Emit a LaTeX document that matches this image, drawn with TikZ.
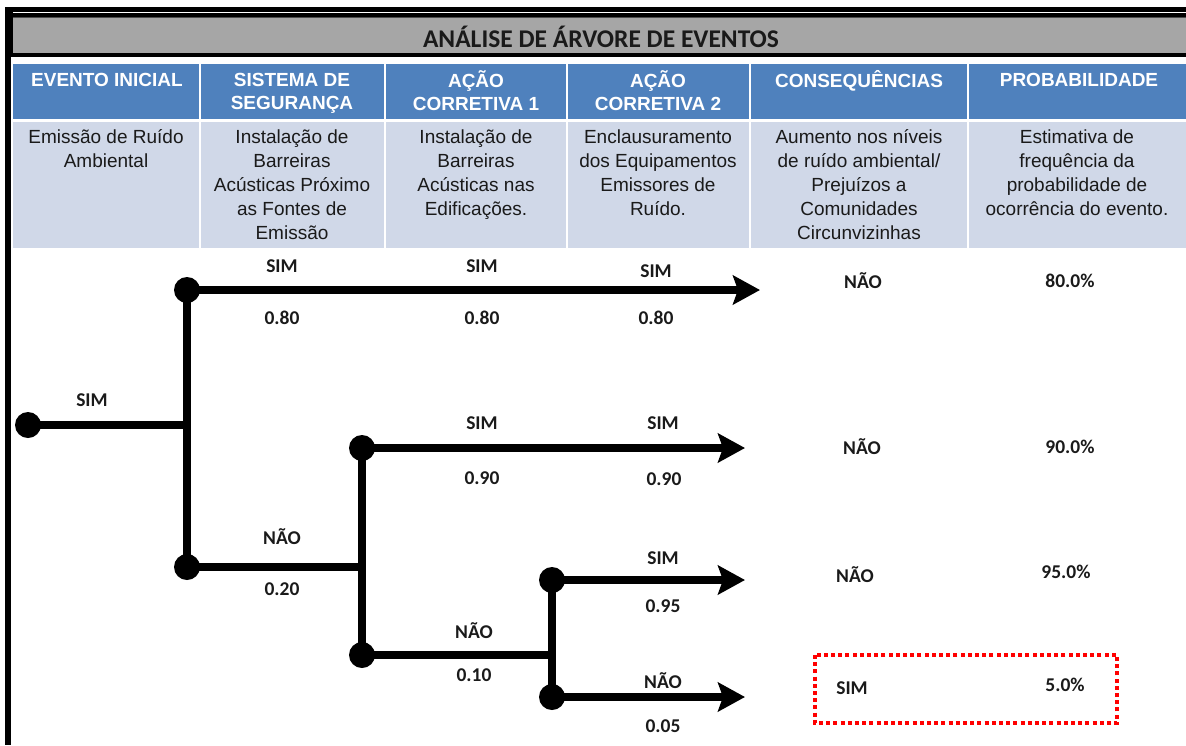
\documentclass[tikz,border=0pt]{standalone}
\usepackage{fontspec}
\setmainfont{Liberation Sans}
\newfontfamily\calfont{Carlito}
\usetikzlibrary{arrows.meta}
\definecolor{hdrblue}{HTML}{4F81BD}
\definecolor{rowblue}{HTML}{D0D8E8}
\definecolor{titlegray}{HTML}{A6A6A6}
\definecolor{ink}{HTML}{1A1A1A}
\tikzset{
  hdr/.style={anchor=north, align=center, text=white, font=\fontsize{19}{23}\selectfont\bfseries, inner sep=0pt},
  body/.style={anchor=north, align=center, text=ink, font=\fontsize{19}{24}\selectfont, inner sep=0pt},
  lbl/.style={font=\calfont\bfseries\fontsize{19.5}{22}\selectfont, inner sep=0pt, text=ink},
  dot/.style={circle, fill=black, minimum size=26pt, inner sep=0pt},
  branch/.style={line width=8pt},
  arrowbranch/.style={line width=8pt, -{Stealth[length=27pt,width=29pt,inset=5pt]}},
  redbox/.style={draw=red, line width=4pt, dash pattern=on 4pt off 3.2pt},
}
\begin{document}
\begin{tikzpicture}[x=1pt,y=-1pt]
\useasboundingbox (0,0) rectangle (1186,745);
% frame and title bar
\fill[black] (5,7) rectangle (1186,17);
\draw[white, line width=1pt] (12,12.5) -- (1186,12.5);
\fill[black] (5,7) rectangle (13,57);
\fill[black] (5,7) rectangle (11,745);
\fill[titlegray] (13,17) rectangle (1186,54);
\draw[black!70, line width=1.5pt] (13,17.5) -- (1186,17.5);
\fill[black] (13,53) rectangle (1186,57);
\node[font=\calfont\bfseries\fontsize{25.5}{28}\selectfont, text=ink, inner sep=0pt] (title) at (601,37) {ANÁLISE DE ÁRVORE DE EVENTOS};
% header row
\fill[hdrblue] (13,64) rectangle (1186,119);
\fill[rowblue] (13,122) rectangle (1186,248);
\foreach \xx in {200,385,567,750,968} {
  \draw[white, line width=2pt] (\xx,64) -- (\xx,248);
}
\node[hdr] (h1) at (107,70) {\strut EVENTO INICIAL};
\node[hdr] (h2) at (292,70) {\strut SISTEMA DE\\SEGURANÇA};
\node[hdr] (h3) at (476,70) {\strut AÇÃO\\CORRETIVA 1};
\node[hdr] (h4) at (658,70) {\strut AÇÃO\\CORRETIVA 2};
\node[hdr] (h5) at (859,70) {\strut CONSEQUÊNCIAS};
\node[hdr] (h6) at (1079,70) {\strut PROBABILIDADE};
\node[body] (b1) at (106,126) {\strut Emissão de Ruído\\Ambiental};
\node[body] (b2) at (292,126) {\strut Instalação de\\Barreiras\\Acústicas Próximo\\as Fontes de\\Emissão};
\node[body] (b3) at (476,126) {\strut Instalação de\\Barreiras\\Acústicas nas\\Edificações.};
\node[body] (b4) at (658,126) {\strut Enclausuramento\\dos Equipamentos\\Emissores de\\Ruído.};
\node[body] (b5) at (859,126) {\strut Aumento nos níveis\\de ruído ambiental/\\Prejuízos a\\Comunidades\\Circunvizinhas};
\node[body] (b6) at (1077,126) {\strut Estimativa de\\frequência da\\probabilidade de\\ocorrência do evento.};
% tree points
\node[dot] (s0) at (28,425) {};
\coordinate (j1) at (187,425);
\node[dot] (d1) at (187,290) {};
\node[dot] (d2) at (187,567) {};
\coordinate (e1) at (760,290);
\coordinate (j2) at (362,567);
\node[dot] (d3) at (362,448) {};
\node[dot] (d4) at (362,655) {};
\coordinate (e2) at (745,448);
\coordinate (j3) at (552,655);
\node[dot] (d5) at (552,580) {};
\node[dot] (d6) at (552,697) {};
\coordinate (e3) at (745,580);
\coordinate (e4) at (745,697);
% connectors
\draw[branch] (s0.center) -- (j1);
\draw[branch] (d1.center) -- (d2.center);
\draw[arrowbranch] (d1.center) -- (e1);
\draw[branch] (d2.center) -- (j2);
\draw[branch] (d3.center) -- (d4.center);
\draw[arrowbranch] (d3.center) -- (e2);
\draw[branch] (d4.center) -- (j3);
\draw[branch] (d5.center) -- (d6.center);
\draw[arrowbranch] (d5.center) -- (e3);
\draw[arrowbranch] (d6.center) -- (e4);
% labels
\node[lbl] (l0) at (92,400) {SIM};
\node[lbl] (l1a) at (282,266) {SIM};
\node[lbl] (l1b) at (282,318) {0.80};
\node[lbl] (l2a) at (482,266) {SIM};
\node[lbl] (l2b) at (482,318) {0.80};
\node[lbl] (l3a) at (656,271) {SIM};
\node[lbl] (l3b) at (656,318) {0.80};
\node[lbl] (c1) at (863,281) {NÃO};
\node[lbl] (p1) at (1070,281) {80.0\%};
\node[lbl] (l4a) at (282,537) {NÃO};
\node[lbl] (l4b) at (282,589) {0.20};
\node[lbl] (l5a) at (482,423) {SIM};
\node[lbl] (l5b) at (482,478) {0.90};
\node[lbl] (l6a) at (663,423) {SIM};
\node[lbl] (l6b) at (664,479) {0.90};
\node[lbl] (c2) at (862,447) {NÃO};
\node[lbl] (p2) at (1070,447) {90.0\%};
\node[lbl] (l7a) at (474,631) {NÃO};
\node[lbl] (l7b) at (474,675) {0.10};
\node[lbl] (l8a) at (663,558) {SIM};
\node[lbl] (l8b) at (663,606) {0.95};
\node[lbl] (c3) at (855,575) {NÃO};
\node[lbl] (p3) at (1066,572) {95.0\%};
\node[lbl] (l9a) at (663,681) {NÃO};
\node[lbl] (l9b) at (663,726) {0.05};
\draw[redbox] (815,655) rectangle (1117,723);
\node[lbl] (c4) at (852,688) {SIM};
\node[lbl] (p4) at (1065,685) {5.0\%};
\end{tikzpicture}
\end{document}
